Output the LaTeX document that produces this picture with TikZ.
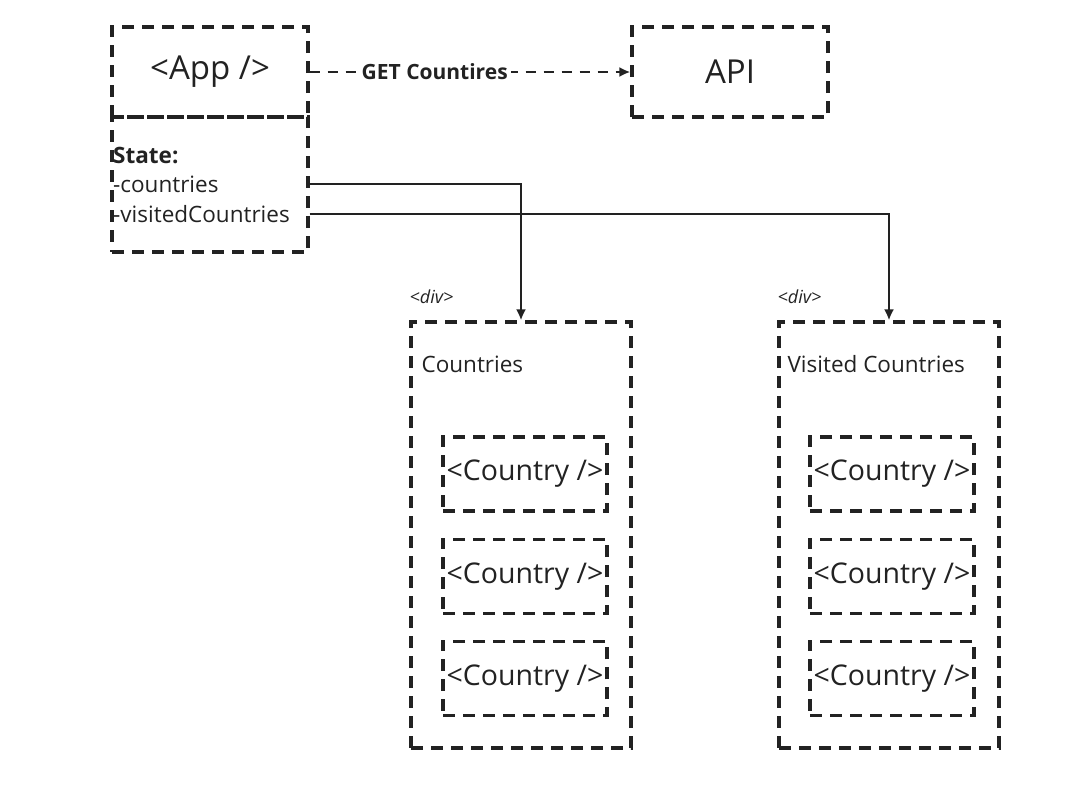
\documentclass[tikz,border=0pt]{standalone}
\usepackage{fontspec}
\setmainfont{Open Sans}
\usetikzlibrary{arrows.meta,positioning}
\definecolor{ink}{HTML}{222222}

\begin{document}
\begin{tikzpicture}[
  x=1pt,y=-1pt,
  node distance=25pt,
  dashbox/.style={draw=ink,line width=3.2pt,dash pattern=on 12pt off 8pt,text=ink,inner sep=0pt},
  compbox/.style={dashbox,minimum width=196pt,minimum height=90pt,font=\fontsize{33}{40}\selectfont},
  statebox/.style={dashbox,minimum width=196pt,minimum height=135pt},
  divbox/.style={dashbox,minimum width=220pt,minimum height=426pt},
  itembox/.style={dashbox,minimum width=164pt,minimum height=74pt,font=\fontsize{28.5}{34}\selectfont},
  txt/.style={text=ink,inner sep=1pt,anchor=west,font=\fontsize{22.5}{27}\selectfont},
  tag/.style={text=ink,anchor=west,inner sep=0pt,font=\fontsize{18}{21}\selectfont\itshape},
  wire/.style={-{Latex[length=11pt,width=10pt]},draw=ink,line width=2.6pt},
  getline/.style={wire,dash pattern=on 10pt off 8pt},
  gettag/.style={fill=white,text=ink,inner sep=3pt,font=\fontsize{21}{25}\selectfont\bfseries}
]
\useasboundingbox (0,0) rectangle (1089,788);
\node[compbox] (app) at (210,72) {<App />};
\node[statebox] (state) at (210,184.5) {};
\node[compbox] (api) at (730,72) {API};
\node[txt,font=\fontsize{22.5}{27}\selectfont\bfseries] (sttitle) at (112,155) {State:};
\node[txt] (stcountries) at (112,184) {-countries};
\node[txt] (stvisited) at (112,214) {-visitedCountries};
% divs
\node[divbox] (cdiv) at (521,535) {};
\node[divbox] (vdiv) at (889,535) {};
\node[tag] (ctag) at ([yshift=24pt]cdiv.north west) {<div>};
\node[tag] (vtag) at ([yshift=24pt]vdiv.north west) {<div>};
\node[txt] (ctitle) at ([xshift=11pt,yshift=-44pt]cdiv.north west) {Countries};
\node[txt] (vtitle) at ([xshift=9pt,yshift=-44pt]vdiv.north west) {Visited Countries};
\node[itembox] (c1) at (525,474) {<Country />};
\node[itembox,below=of c1] (c2) {<Country />};
\node[itembox,below=of c2] (c3) {<Country />};
\node[itembox] (v1) at (892,474) {<Country />};
\node[itembox,below=of v1] (v2) {<Country />};
\node[itembox,below=of v2] (v3) {<Country />};
% connectors
\draw[getline] (app) -- node[gettag,pos=0.39] (gettxt) {GET Countires} (api);
\draw[wire] (stcountries.east -| state.east) -| (cdiv.north);
\draw[wire] (stvisited.east -| state.east) -| (vdiv.north);
\end{tikzpicture}
\end{document}
